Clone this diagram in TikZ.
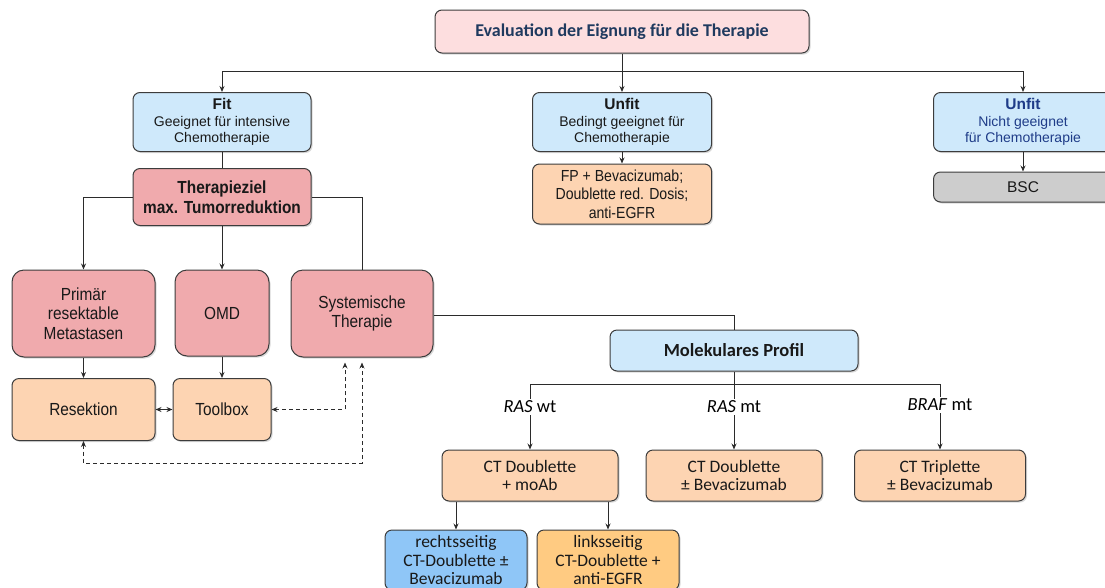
\documentclass[tikz,border=0pt]{standalone}
\usepackage{fontspec}
\setmainfont{Liberation Sans}
\newfontfamily\narrowfont{Liberation Sans}[FakeStretch=0.88]
\newfontfamily\calfont{Carlito}
\usetikzlibrary{arrows.meta,positioning,shadows}
\definecolor{evalfill}{HTML}{FDDEDF}
\definecolor{evaltext}{HTML}{1F3A5F}
\definecolor{bluefill}{HTML}{CFE9FB}
\definecolor{pinkfill}{HTML}{F0AAAD}
\definecolor{orangefill}{HTML}{FDD4B2}
\definecolor{grayfill}{HTML}{CDCDCD}
\definecolor{rechtsfill}{HTML}{8FC6F7}
\definecolor{linksfill}{HTML}{FFCB82}
\definecolor{edgegray}{HTML}{3C3C3C}
\definecolor{linegray}{HTML}{2B2B2B}
\definecolor{unfitblue}{HTML}{1F3C88}
\newcommand{\hd}[1]{{\fontsize{15.5}{17}\selectfont\bfseries #1}}

\begin{document}
\begin{tikzpicture}[
  x=1pt, y=-1pt,
  block/.style={
    rectangle, draw=edgegray, line width=1pt, rounded corners=7pt,
    align=center, inner sep=2pt, text=black!90,
    drop shadow={shadow xshift=1.5pt, shadow yshift=-1.5pt, opacity=0.3}
  },
  topfont/.style={font=\fontsize{14}{16.5}\selectfont},
  midfont/.style={font=\narrowfont\fontsize{17.5}{19.5}\selectfont},
  calbox/.style={font=\calfont\fontsize{17.5}{18.5}\selectfont},
  tag/.style={font=\calfont\fontsize{18.5}{20}\selectfont, inner sep=2pt},
  line/.style={draw=linegray, line width=0.9pt},
  arrow/.style={line, -{Stealth[length=6pt,width=5pt]}},
  twoway/.style={line, {Stealth[length=6pt,width=5pt]}-{Stealth[length=6pt,width=5pt]}},
  dasharrow/.style={twoway, dash pattern=on 4pt off 3pt}
]
\clip (0,0) rectangle (1105,587);

% Top: Eignung
\node[block, fill=evalfill, text=evaltext, minimum width=374, minimum height=43,
  font=\calfont\bfseries\fontsize{18}{20}\selectfont] (eval) at (622,31.5)
  {Evaluation der Eignung für die Therapie};
\node[block, fill=bluefill, topfont, minimum width=178, minimum height=59] (fit) at (222,122)
  {\hd{Fit}\\Geeignet für intensive\\Chemotherapie};
\node[block, fill=bluefill, topfont, minimum width=179, minimum height=59] (unfitA) at (622,122)
  {\hd{Unfit}\\Bedingt geeignet für\\Chemotherapie};
\node[block, fill=bluefill, topfont, text=unfitblue, minimum width=179, minimum height=59] (unfitB) at (1023,122)
  {\hd{Unfit}\\Nicht geeignet\\für Chemotherapie};
\node[block, fill=orangefill, font=\narrowfont\fontsize{16}{18.5}\selectfont,
  minimum width=179, minimum height=60] (fp) at (622,194)
  {FP + Bevacizumab;\\Doublette red. Dosis;\\anti-EGFR};
\node[block, fill=grayfill, font=\fontsize{15.5}{17}\selectfont,
  minimum width=179, minimum height=30] (bsc) at (1023,187) {BSC};

% Fit branch
\node[block, fill=pinkfill, font=\narrowfont\bfseries\fontsize{17.5}{20}\selectfont,
  minimum width=178, minimum height=57] (ziel) at (222,197)
  {Therapieziel\\max. Tumorreduktion};
\node[block, fill=pinkfill, midfont, rounded corners=12pt, minimum width=143, minimum height=87] (primaer) at (83.5,313.5)
  {Primär\\resektable\\Metastasen};
\node[block, fill=pinkfill, midfont, rounded corners=12pt, minimum width=94, minimum height=86] (omd) at (222,313)
  {OMD};
\node[block, fill=pinkfill, midfont, rounded corners=12pt, minimum width=142, minimum height=87] (syst) at (362,313.5)
  {Systemische\\Therapie};
\node[block, fill=orangefill, midfont, minimum width=143, minimum height=62] (resekt) at (83.5,409.5) {Resektion};
\node[block, fill=orangefill, midfont, minimum width=98, minimum height=62] (toolbox) at (222,409.5) {Toolbox};

% Molekulares Profil
\node[block, fill=bluefill, minimum width=248, minimum height=41,
  font=\calfont\bfseries\fontsize{18.5}{20}\selectfont] (molek) at (734,350.5) {Molekulares Profil};
\node[tag] (raswt) at (530,407) {\textit{RAS} wt};
\node[tag] (rasmt) at (734,407) {\textit{RAS} mt};
\node[tag] (brafmt) at (940,405) {\textit{BRAF} mt};
\node[block, fill=orangefill, calbox, minimum width=176, minimum height=51] (ctmoab) at (530,475.5)
  {CT Doublette\\+ moAb};
\node[block, fill=orangefill, calbox, minimum width=176, minimum height=51] (ctbev) at (734,475.5)
  {CT Doublette\\± Bevacizumab};
\node[block, fill=orangefill, calbox, minimum width=171, minimum height=51] (cttrip) at (940,475.5)
  {CT Triplette\\± Bevacizumab};
\node[block, fill=rechtsfill, calbox, minimum width=142, minimum height=60] (rechts) at (456,560)
  {rechtsseitig\\CT-Doublette ±\\Bevacizumab};
\node[block, fill=linksfill, calbox, minimum width=142, minimum height=60] (links) at (608,560)
  {linksseitig\\CT-Doublette +\\anti-EGFR};

% Arrows
\coordinate (split) at (622,71);
\draw[arrow] (eval) -- (unfitA);
\draw[arrow] (split) -| (fit.north);
\draw[arrow] (split) -| (unfitB.north);
\draw[arrow] (unfitA) -- (fp);
\draw[arrow] (unfitB) -- (bsc);
\draw[line] (fit) -- (ziel);
\draw[arrow] (ziel.west) -| (primaer.north);
\draw[line] (ziel.east) -| (syst.north);
\draw[arrow] (ziel) -- (omd);
\draw[arrow] (primaer) -- (resekt);
\draw[arrow] (omd) -- (toolbox);
\draw[twoway] (resekt) -- (toolbox);
\draw[dasharrow] (toolbox) -| ([xshift=-17pt,yshift=-5pt]syst.south);
\draw[dasharrow] (resekt.south) -- ++(0,22) -| ([yshift=-5pt]syst.south);
\draw[line] ([yshift=-1.5pt]syst.east) -| (molek.north);

\coordinate (fork) at (734,384);
\draw[line] (molek) -- (fork);
\draw[line] (fork -| raswt) -- (fork -| brafmt);
\draw[line] (fork -| raswt) -- (raswt);
\draw[line] (fork -| brafmt) -- (brafmt);
\draw[line] (fork) -- (rasmt);
\draw[arrow] (raswt) -- (ctmoab);
\draw[arrow] (rasmt) -- (ctbev);
\draw[arrow] (brafmt) -- (cttrip);
\draw[arrow] (ctmoab.south -| rechts) -- (rechts);
\draw[arrow] (ctmoab.south -| links) -- (links);

\end{tikzpicture}
\end{document}
